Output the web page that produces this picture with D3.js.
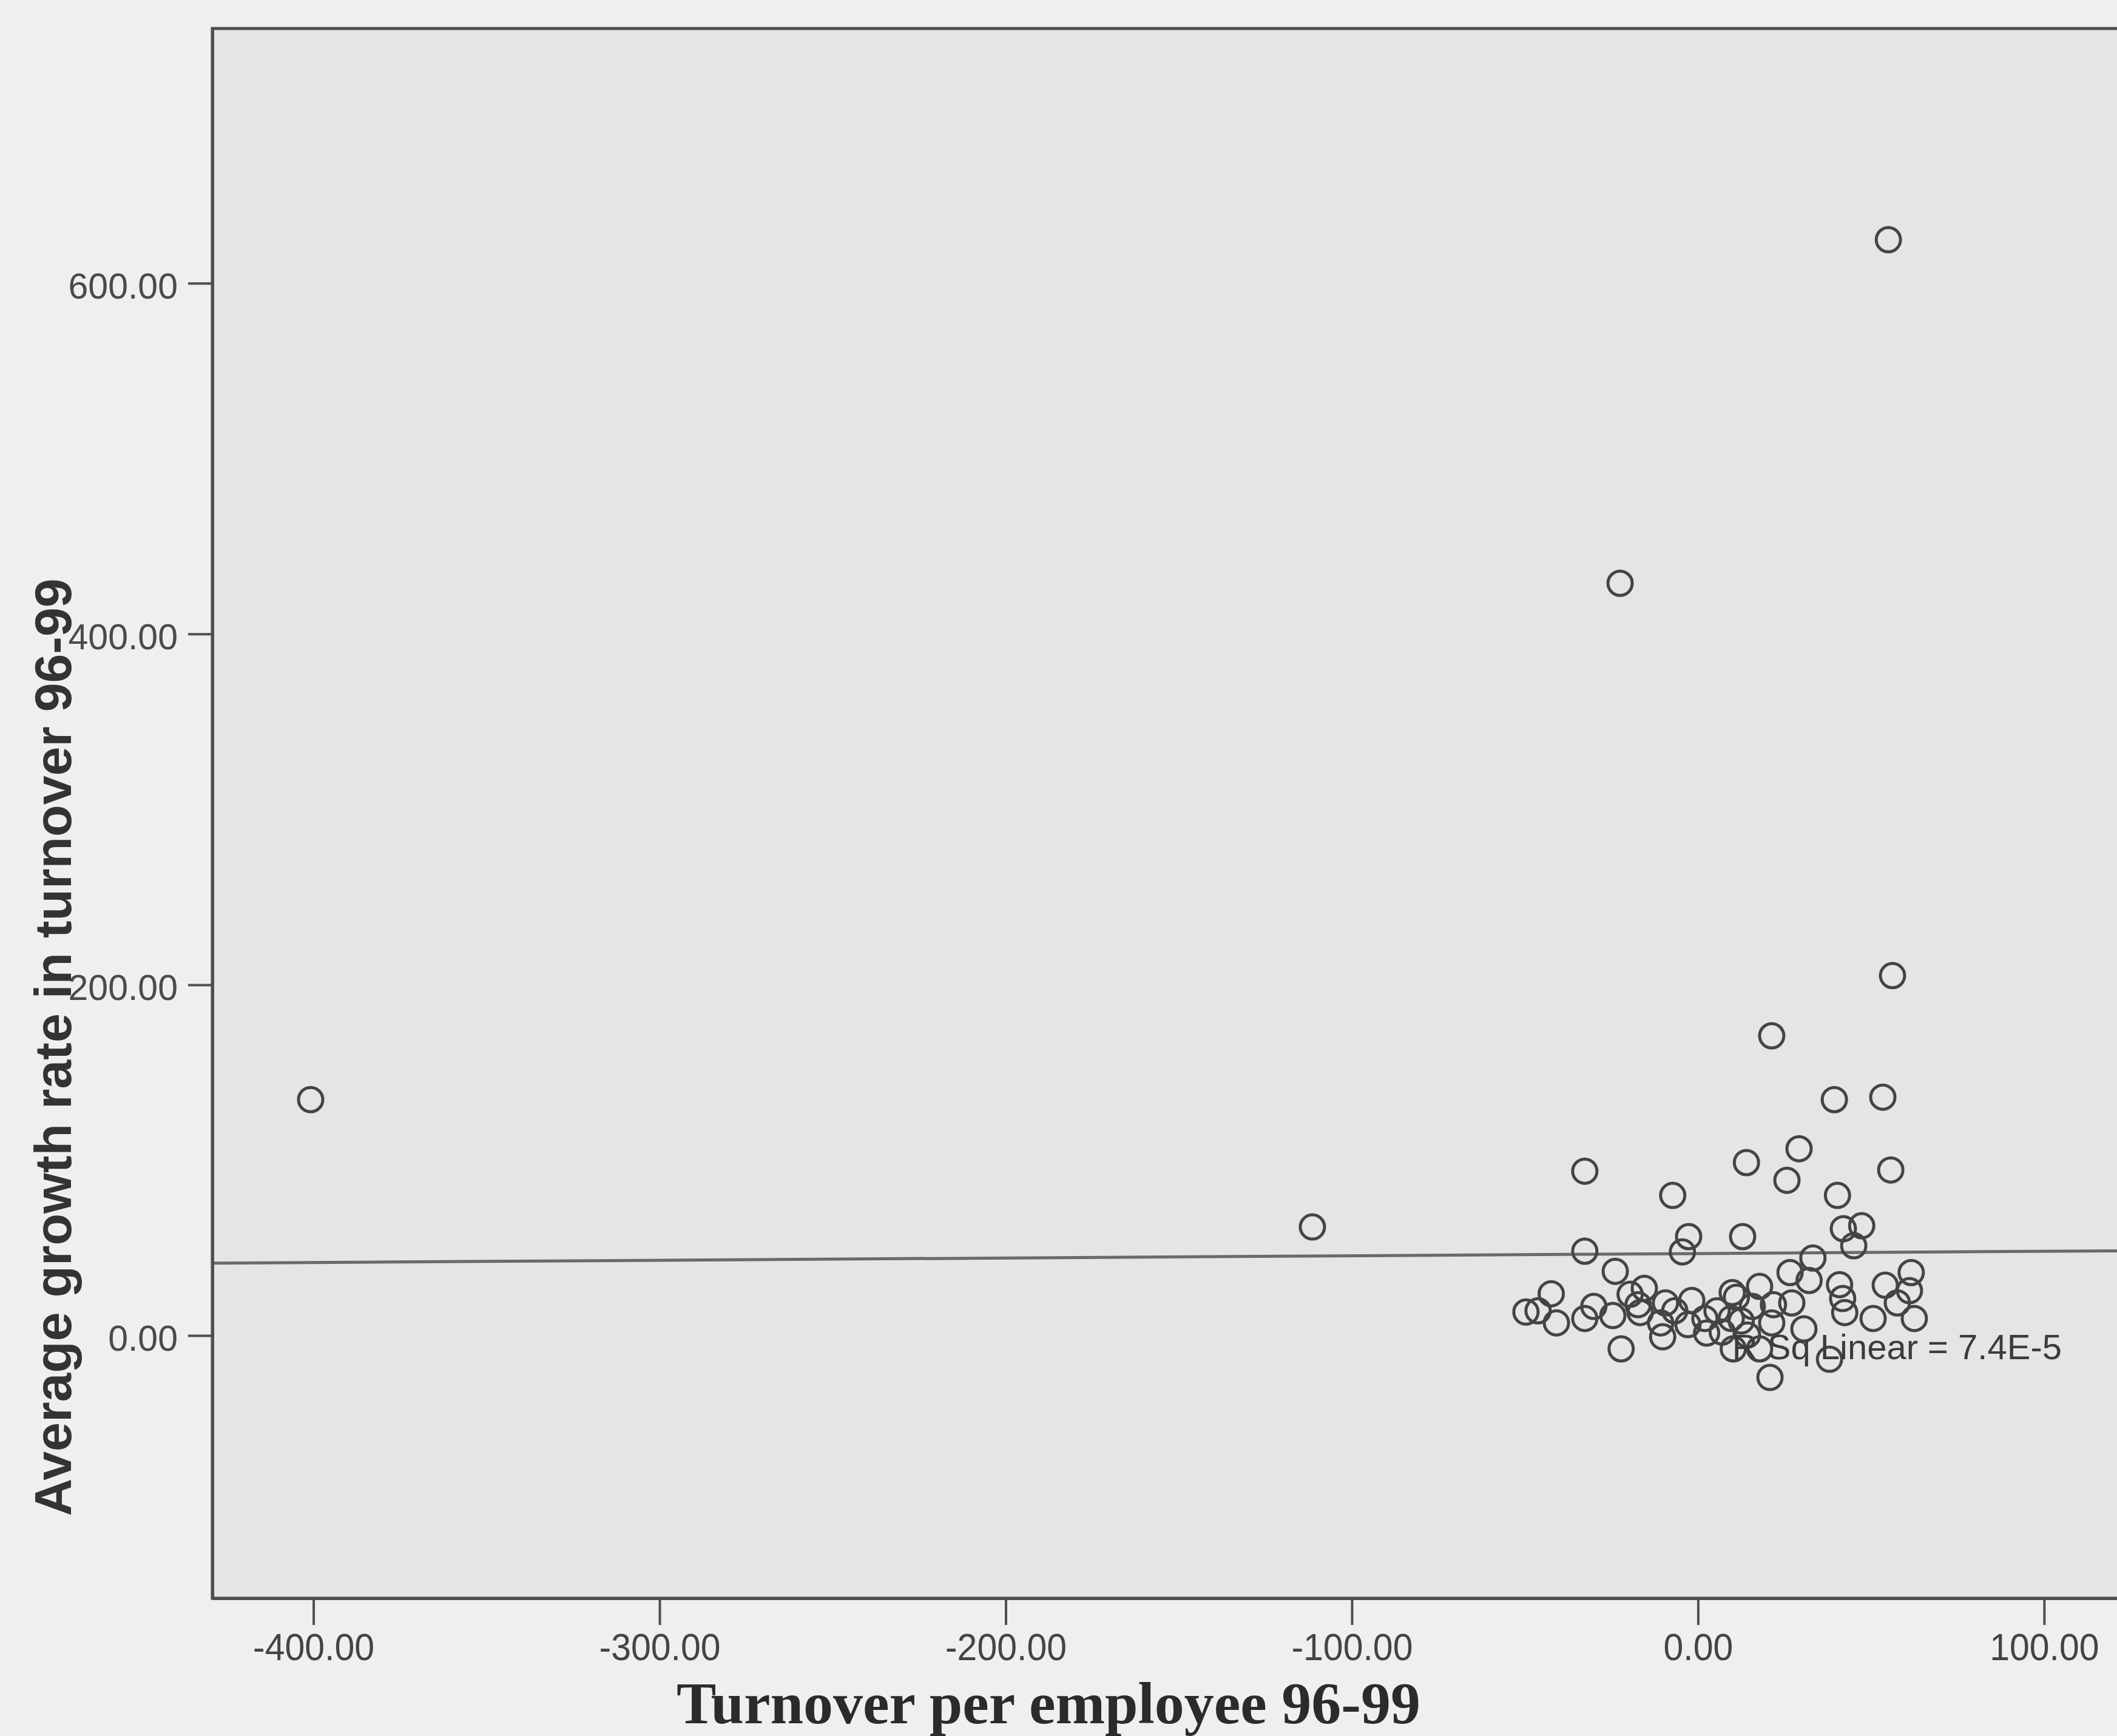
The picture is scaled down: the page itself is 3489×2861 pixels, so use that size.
<!DOCTYPE html>
<html>
<head>
<meta charset="utf-8">
<script src="https://cdn.jsdelivr.net/npm/d3@7"></script>
<style>
  html, body { margin: 0; padding: 0; background: #efefef; }
  svg { display: block; }
</style>
</head>
<body>
<svg id="chart" width="3489" height="2861"></svg>
<script>
// ---------------- DATA ----------------
const xLabel = "Turnover per employee 96-99";
const yLabel = "Average growth rate in turnover 96-99";
const fitLabel = "R Sq Linear = 7.4E-5";

const xTicks = [-400, -300, -200, -100, 0, 100];
const yTicks = [0, 200, 400, 600];
const xDomain = [-429.2, 131.75];
const yDomain = [-149.8, 745.2];

// Turnover per employee 96-99
const turnoverPerEmployee = [
  55.0, -22.5, 56.2, 21.3, -400.8, -111.4, 39.4, 53.4, -32.7, -7.3,
  14.0, 29.2, 25.7, 55.7, 40.3, -32.7, -2.7, -4.5, 12.9, -23.9,
  -42.4, -49.7, -46.2, -40.9, -32.7, -30.1, -24.6, -19.6, -15.5, -16.7,
  -22.2, -9.4, -10.2, -10.8, -1.8, -2.9, 2.0, 9.9, 11.1, 17.8,
  15.7, 12.5, 10.2, 17.8, 20.8, 21.3, 21.8, 26.6, 27.1, 30.6,
  42.0, 47.3, 45.0, 33.2, 32.1, 40.9, 41.8, 42.4, 50.6, 54.1,
  61.6, 61.1, 57.6, 62.5, 38.0, 9.6, 2.5, -17.3, 5.5, 7.0,
  -6.7, 14.3
];
// Average growth rate in turnover 96-99
const growthRate = [
  624.8, 428.9, 205.2, 170.9, 134.5, 61.9, 134.5, 135.9, 93.7, 79.9,
  98.6, 106.5, 88.5, 94.4, 79.9, 48.1, 56.4, 47.7, 56.4, 36.6,
  23.8, 13.4, 14.1, 7.2, 9.7, 16.6, 11.4, 23.5, 26.9, 13.1,
  -7.6, 18.6, -0.7, 7.2, 20.0, 6.2, 9.7, 24.5, 21.8, 28.0,
  16.6, 8.3, -7.6, -7.6, -23.9, 7.2, 17.6, 35.9, 18.6, 3.8,
  60.9, 62.6, 51.2, 44.2, 31.4, 29.0, 21.1, 13.1, 9.7, 28.7,
  35.9, 25.6, 18.6, 9.7, -13.5, 9.7, 1.4, 17.6, 14.1, 2.0,
  14.1, 0.3
];
// Linear fit line (intercept, slope)
const fitIntercept = 46.75;
const fitSlope = 0.0128;

// ---------------- LAYOUT ----------------
const W = 3489, H = 2861;
const plot = { left: 350, right: 3550, top: 47, bottom: 2634 };

const svg = d3.select("#chart");
svg.append("rect").attr("x", 0).attr("y", 0).attr("width", W).attr("height", H).attr("fill", "#efefef");

const x = d3.scaleLinear().domain(xDomain).range([plot.left, plot.right]);
const y = d3.scaleLinear().domain(yDomain).range([plot.bottom, plot.top]);

// plot background
svg.append("rect")
  .attr("x", plot.left).attr("y", plot.top)
  .attr("width", plot.right - plot.left).attr("height", plot.bottom - plot.top)
  .attr("fill", "#e5e5e5");

// fit line
const fitData = xDomain.map(v => ({ x: v, y: fitIntercept + fitSlope * v }));
svg.append("path")
  .datum(fitData)
  .attr("d", d3.line().x(d => x(d.x)).y(d => y(d.y)))
  .attr("fill", "none")
  .attr("stroke", "#6a6a6a")
  .attr("stroke-width", 5);

// points
const pts = turnoverPerEmployee.map((v, i) => ({ x: v, y: growthRate[i] }));
svg.append("g")
  .selectAll("circle")
  .data(pts)
  .join("circle")
  .attr("cx", d => x(d.x))
  .attr("cy", d => y(d.y))
  .attr("r", 20)
  .attr("fill", "none")
  .attr("stroke", "#444")
  .attr("stroke-width", 5);

// fit label
svg.append("text")
  .attr("x", 3398).attr("y", 2240)
  .attr("text-anchor", "end")
  .attr("font-family", "'Liberation Sans', Arial, sans-serif")
  .attr("font-size", 58)
  .attr("fill", "#3c3c3c")
  .text(fitLabel);

// frame
svg.append("rect")
  .attr("x", plot.left).attr("y", plot.top)
  .attr("width", plot.right - plot.left).attr("height", plot.bottom - plot.top)
  .attr("fill", "none")
  .attr("stroke", "#4f4f4f")
  .attr("stroke-width", 5);

// x axis
const fmt = d => d.toFixed(2);
const gx = svg.append("g")
  .attr("transform", `translate(0,${plot.bottom})`)
  .call(d3.axisBottom(x).tickValues(xTicks).tickFormat(fmt).tickSize(44).tickSizeOuter(0));
gx.select(".domain").attr("stroke", "#4f4f4f").attr("stroke-width", 5);
gx.selectAll(".tick line").attr("stroke", "#4f4f4f").attr("stroke-width", 4);
gx.selectAll(".tick text")
  .attr("font-family", "'Liberation Sans', Arial, sans-serif")
  .attr("font-size", 59)
  .attr("fill", "#444")
  .attr("y", 102 / 1.06)
  .attr("dy", 0)
  .attr("transform", "scale(1,1.06)");

// y axis
const gy = svg.append("g")
  .attr("transform", `translate(${plot.left},0)`)
  .call(d3.axisLeft(y).tickValues(yTicks).tickFormat(fmt).tickSize(40).tickPadding(17).tickSizeOuter(0));
gy.select(".domain").attr("stroke", "#4f4f4f").attr("stroke-width", 5);
gy.selectAll(".tick line").attr("stroke", "#4f4f4f").attr("stroke-width", 4);
gy.selectAll(".tick text")
  .attr("font-family", "'Liberation Sans', Arial, sans-serif")
  .attr("font-size", 59)
  .attr("fill", "#4a4a4a")
  .attr("dy", "0.42em");

// axis titles
svg.append("text")
  .attr("x", 1728).attr("y", 2840)
  .attr("text-anchor", "middle")
  .attr("font-family", "'Liberation Serif', 'Times New Roman', serif")
  .attr("font-weight", "bold")
  .attr("font-size", 98)
  .attr("fill", "#2b2b2b")
  .text(xLabel);

svg.append("text")
  .attr("transform", "translate(117,1726) rotate(-90)")
  .attr("text-anchor", "middle")
  .attr("font-family", "'Liberation Sans', Arial, sans-serif")
  .attr("font-weight", "bold")
  .attr("font-size", 86)
  .attr("fill", "#333")
  .text(yLabel);
</script>
</body>
</html>
